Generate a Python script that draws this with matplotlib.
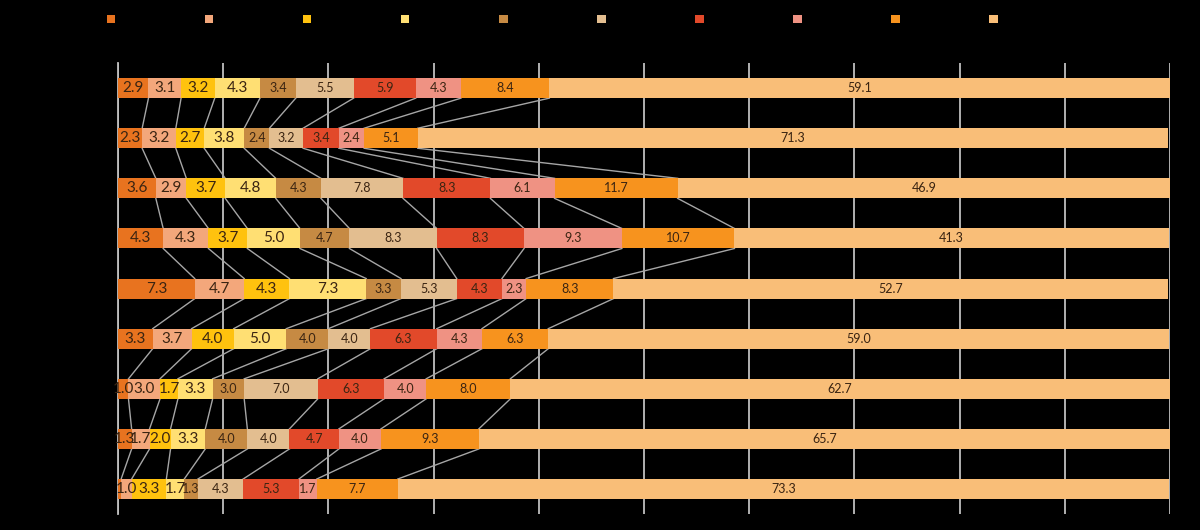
import numpy as np
import matplotlib.pyplot as plt
from matplotlib.patches import Patch

plt.rcParams['font.family'] = ['Lato', 'DejaVu Sans']

# Legend names are drawn in black on black in the source, so they are placeholders
series_names = ['Series 1', 'Series 2', 'Series 3', 'Series 4', 'Series 5',
                'Series 6', 'Series 7', 'Series 8', 'Series 9', 'Series 10']
row_labels = ['Row 1', 'Row 2', 'Row 3', 'Row 4', 'Row 5',
              'Row 6', 'Row 7', 'Row 8', 'Row 9']

# one list per series, values for rows top -> bottom
s1 = [2.9, 2.3, 3.6, 4.3, 7.3, 3.3, 1.0, 1.3, 0.3]
s2 = [3.1, 3.2, 2.9, 4.3, 4.7, 3.7, 3.0, 1.7, 1.0]
s3 = [3.2, 2.7, 3.7, 3.7, 4.3, 4.0, 1.7, 2.0, 3.3]
s4 = [4.3, 3.8, 4.8, 5.0, 7.3, 5.0, 3.3, 3.3, 1.7]
s5 = [3.4, 2.4, 4.3, 4.7, 3.3, 4.0, 3.0, 4.0, 1.3]
s6 = [5.5, 3.2, 7.8, 8.3, 5.3, 4.0, 7.0, 4.0, 4.3]
s7 = [5.9, 3.4, 8.3, 8.3, 4.3, 6.3, 6.3, 4.7, 5.3]
s8 = [4.3, 2.4, 6.1, 9.3, 2.3, 4.3, 4.0, 4.0, 1.7]
s9 = [8.4, 5.1, 11.7, 10.7, 8.3, 6.3, 8.0, 9.3, 7.7]
s10 = [59.1, 71.3, 46.9, 41.3, 52.7, 59.0, 62.7, 65.7, 73.3]

series = [s1, s2, s3, s4, s5, s6, s7, s8, s9, s10]
colors = ['#E8731F', '#F3A77B', '#FFC20E', '#FFDF73', '#C68A43',
          '#E3BE90', '#E2492A', '#EF9283', '#F7931E', '#F9BE78']

fig = plt.figure(figsize=(12, 5.3), dpi=100, facecolor='black')
ax = fig.add_axes([0.0983, 0.030, 0.8767, 0.851])
ax.set_facecolor('black')

y = np.arange(len(row_labels))
h = 0.4
left = np.zeros(len(row_labels))
edges = []
for i, vals in enumerate(series):
    vals = np.array(vals)
    ax.barh(y, vals, left=left, height=h, color=colors[i], zorder=3)
    for yy, l, v in zip(y, left, vals):
        if v < 0.5:
            continue
        big = i < 4
        ax.text(l + v / 2, yy, f'{v:.1f}', ha='center', va='center',
                fontsize=11 if big else 9, color='#3a2412', zorder=4)
    left = left + vals
    edges.append(left.copy())

# series lines between consecutive bars
for e in edges[:-1]:
    for r in range(len(y) - 1):
        ax.plot([e[r], e[r + 1]], [y[r] + h / 2, y[r + 1] - h / 2],
                color='#A6A6A6', lw=1, zorder=2)

ax.set_xlim(0, 100)
ax.set_ylim(len(y) - 0.5, -0.5)
ax.set_xticks(np.arange(0, 101, 10))
ax.set_yticks(y)
ax.set_yticklabels(row_labels, color='black')
ax.tick_params(axis='x', colors='black', labelcolor='black', length=0)
ax.tick_params(axis='y', length=0)
ax.grid(axis='x', color='#BFBFBF', lw=1.3, zorder=1)
for sp in ['top', 'right', 'bottom']:
    ax.spines[sp].set_visible(False)
ax.spines['left'].set_color('#BFBFBF')
ax.spines['left'].set_linewidth(1.3)

handles = [Patch(facecolor=c, edgecolor='none') for c in colors]
leg = fig.legend(handles, series_names, loc='center left', bbox_to_anchor=(0.080, 0.964),
                 ncol=10, frameon=False, fontsize=9, handlelength=0.65, handleheight=0.65,
                 handletextpad=0.5, columnspacing=3.2)
for t in leg.get_texts():
    t.set_color('black')

fig.savefig('out.png', dpi=100, facecolor='black')
